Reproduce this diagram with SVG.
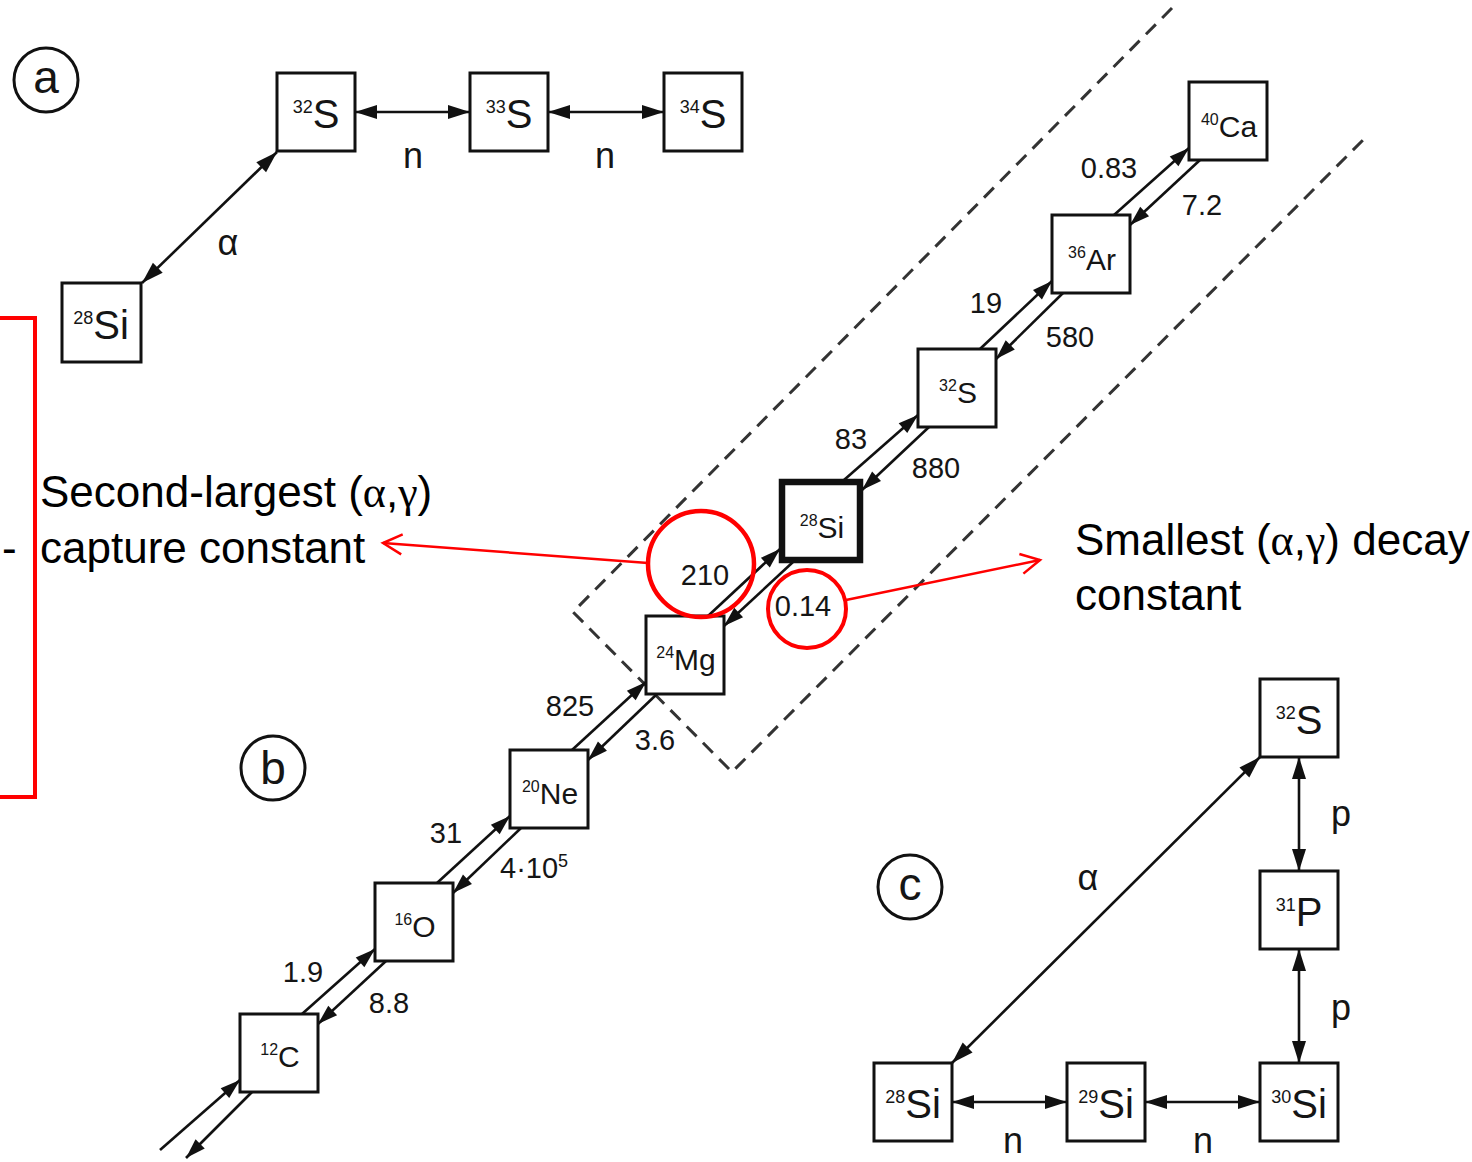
<svg xmlns="http://www.w3.org/2000/svg" width="1472" height="1162" viewBox="0 0 1472 1162">
<defs>
<marker id="ah" markerUnits="userSpaceOnUse" markerWidth="26" markerHeight="18" viewBox="-24 -9 26 18" refX="0" refY="0" orient="auto-start-reverse">
<path d="M-22,-7 L0,0 L-22,7 Z" fill="#111"/>
</marker>
<marker id="ahs" markerUnits="userSpaceOnUse" markerWidth="24" markerHeight="16" viewBox="-22 -8 24 16" refX="0" refY="0" orient="auto">
<path d="M-20,-6.5 L0,0 L-20,6.5 Z" fill="#111"/>
</marker>
<marker id="ra" markerUnits="userSpaceOnUse" markerWidth="28" markerHeight="28" viewBox="-24 -14 28 28" refX="0" refY="0" orient="auto">
<path d="M-19,-10 L0,0 L-19,10" fill="none" stroke="#f00" stroke-width="2.5"/>
</marker>
</defs>
<style>
.box{fill:#fff;stroke:#111;stroke-width:3}
.bold{stroke-width:6.5}
.t{font-family:"Liberation Sans",Arial,sans-serif;fill:#151515}
.iso{font-size:40px;text-anchor:middle}
.isob{font-size:30px;text-anchor:middle}
.num{font-size:29px;text-anchor:middle}
.lbl{font-size:36px;text-anchor:middle}
.pl{font-size:46px;text-anchor:middle}
.ln{stroke:#111;stroke-width:2.6;fill:none}
.dbl{marker-start:url(#ah);marker-end:url(#ah)}
.one{marker-end:url(#ahs)}
.dash{stroke:#333;stroke-width:3;stroke-dasharray:14 9;fill:none}
.red{stroke:#f00;fill:none}
.ann{font-family:"Liberation Sans",Arial,sans-serif;font-size:44px;fill:#000}
.gr{font-family:"Liberation Serif","Times New Roman",serif}
</style>

<!-- dashed region -->
<path class="dash" d="M1172,8 L573,612 L732,772 L1368,135"/>

<!-- panel labels -->
<g id="label-a"><circle cx="46" cy="80" r="32" fill="none" stroke="#111" stroke-width="3"/><text class="t pl" x="46" y="93">a</text></g>
<g id="label-b"><circle cx="273" cy="768" r="32" fill="none" stroke="#111" stroke-width="3"/><text class="t pl" x="273" y="784">b</text></g>
<g id="label-c"><circle cx="910" cy="887" r="32" fill="none" stroke="#111" stroke-width="3"/><text class="t pl" x="910" y="900">c</text></g>

<!-- connectors -->
<g id="connectors">
  <!-- panel a -->
  <line class="ln dbl" x1="142" y1="283" x2="277" y2="152"/>
  <line class="ln dbl" x1="355" y1="112" x2="470" y2="112"/>
  <line class="ln dbl" x1="548" y1="112" x2="664" y2="112"/>
  <!-- panel b -->
  <line class="ln one" x1="160" y1="1150" x2="240" y2="1080"/>
  <line class="ln one" x1="252" y1="1092" x2="186" y2="1158"/>
  <line class="ln one" x1="302" y1="1014" x2="375" y2="949"/>
  <line class="ln one" x1="386" y1="961" x2="318" y2="1024"/>
  <line class="ln one" x1="437" y1="883" x2="510" y2="816"/>
  <line class="ln one" x1="521" y1="828" x2="453" y2="893"/>
  <line class="ln one" x1="572" y1="750" x2="646" y2="682"/>
  <line class="ln one" x1="657" y1="694" x2="588" y2="760"/>
  <line class="ln one" x1="708" y1="616" x2="780" y2="549"/>
  <line class="ln one" x1="793" y1="562" x2="724" y2="626"/>
  <line class="ln one" x1="844" y1="480" x2="918" y2="415"/>
  <line class="ln one" x1="929" y1="427" x2="862" y2="490"/>
  <line class="ln one" x1="980" y1="349" x2="1052" y2="281"/>
  <line class="ln one" x1="1063" y1="293" x2="996" y2="359"/>
  <line class="ln one" x1="1114" y1="215" x2="1189" y2="148"/>
  <line class="ln one" x1="1200" y1="160" x2="1130" y2="225"/>
  <!-- panel c -->
  <line class="ln dbl" x1="952" y1="1063" x2="1260" y2="757"/>
  <line class="ln dbl" x1="1299" y1="757" x2="1299" y2="871"/>
  <line class="ln dbl" x1="1299" y1="949" x2="1299" y2="1063"/>
  <line class="ln dbl" x1="952" y1="1102" x2="1067" y2="1102"/>
  <line class="ln dbl" x1="1145" y1="1102" x2="1260" y2="1102"/>
</g>

<!-- connector labels -->
<g id="connector-labels" class="t">
  <text class="lbl" x="228" y="255">α</text>
  <text class="lbl" x="413" y="168">n</text>
  <text class="lbl" x="605" y="168">n</text>
  <text class="num" x="303" y="982">1.9</text>
  <text class="num" x="389" y="1013">8.8</text>
  <text class="num" x="446" y="843">31</text>
  <text class="num" x="500" y="878" style="text-anchor:start">4·10<tspan font-size="18" dy="-11">5</tspan></text>
  <text class="num" x="570" y="716">825</text>
  <text class="num" x="655" y="750">3.6</text>
  <text class="num" x="705" y="585">210</text>
  <text class="num" x="803" y="616">0.14</text>
  <text class="num" x="851" y="449">83</text>
  <text class="num" x="936" y="478">880</text>
  <text class="num" x="986" y="313">19</text>
  <text class="num" x="1070" y="347">580</text>
  <text class="num" x="1109" y="178">0.83</text>
  <text class="num" x="1202" y="215">7.2</text>
  <text class="lbl" x="1088" y="890">α</text>
  <text class="lbl" x="1341" y="826">p</text>
  <text class="lbl" x="1341" y="1020">p</text>
  <text class="lbl" x="1013" y="1153">n</text>
  <text class="lbl" x="1203" y="1153">n</text>
</g>

<!-- panel a nodes -->
<g id="a-S32"><rect class="box" x="277" y="73" width="78" height="78"/><text class="t iso" x="316" y="128"><tspan font-size="18" dy="-15">32</tspan><tspan dy="15">S</tspan></text></g>
<g id="a-S33"><rect class="box" x="470" y="73" width="78" height="78"/><text class="t iso" x="509" y="128"><tspan font-size="18" dy="-15">33</tspan><tspan dy="15">S</tspan></text></g>
<g id="a-S34"><rect class="box" x="664" y="73" width="78" height="78"/><text class="t iso" x="703" y="128"><tspan font-size="18" dy="-15">34</tspan><tspan dy="15">S</tspan></text></g>
<g id="a-Si28"><rect class="box" x="62" y="283" width="79" height="79"/><text class="t iso" x="101" y="339"><tspan font-size="18" dy="-15">28</tspan><tspan dy="15">Si</tspan></text></g>

<!-- panel b nodes -->
<g id="b-C12"><rect class="box" x="240" y="1014" width="78" height="78"/><text class="t isob" x="280" y="1067"><tspan font-size="16" dy="-12">12</tspan><tspan dy="12">C</tspan></text></g>
<g id="b-O16"><rect class="box" x="375" y="883" width="78" height="78"/><text class="t isob" x="415" y="937"><tspan font-size="16" dy="-12">16</tspan><tspan dy="12">O</tspan></text></g>
<g id="b-Ne20"><rect class="box" x="510" y="750" width="78" height="78"/><text class="t isob" x="550" y="804"><tspan font-size="16" dy="-12">20</tspan><tspan dy="12">Ne</tspan></text></g>
<g id="b-Mg24"><rect class="box" x="646" y="616" width="78" height="78"/><text class="t isob" x="686" y="670"><tspan font-size="16" dy="-12">24</tspan><tspan dy="12">Mg</tspan></text></g>
<g id="b-Si28"><rect class="box bold" x="782" y="482" width="78" height="78"/><text class="t isob" x="822" y="538"><tspan font-size="16" dy="-12">28</tspan><tspan dy="12">Si</tspan></text></g>
<g id="b-S32"><rect class="box" x="918" y="349" width="78" height="78"/><text class="t isob" x="958" y="403"><tspan font-size="16" dy="-12">32</tspan><tspan dy="12">S</tspan></text></g>
<g id="b-Ar36"><rect class="box" x="1052" y="215" width="78" height="78"/><text class="t isob" x="1092" y="270"><tspan font-size="16" dy="-12">36</tspan><tspan dy="12">Ar</tspan></text></g>
<g id="b-Ca40"><rect class="box" x="1189" y="82" width="78" height="78"/><text class="t isob" x="1229" y="137"><tspan font-size="16" dy="-12">40</tspan><tspan dy="12">Ca</tspan></text></g>

<!-- panel c nodes -->
<g id="c-S32"><rect class="box" x="1260" y="679" width="78" height="78"/><text class="t iso" x="1299" y="734"><tspan font-size="18" dy="-15">32</tspan><tspan dy="15">S</tspan></text></g>
<g id="c-P31"><rect class="box" x="1260" y="871" width="78" height="78"/><text class="t iso" x="1299" y="926"><tspan font-size="18" dy="-15">31</tspan><tspan dy="15">P</tspan></text></g>
<g id="c-Si28"><rect class="box" x="874" y="1063" width="78" height="78"/><text class="t iso" x="913" y="1118"><tspan font-size="18" dy="-15">28</tspan><tspan dy="15">Si</tspan></text></g>
<g id="c-Si29"><rect class="box" x="1067" y="1063" width="78" height="78"/><text class="t iso" x="1106" y="1118"><tspan font-size="18" dy="-15">29</tspan><tspan dy="15">Si</tspan></text></g>
<g id="c-Si30"><rect class="box" x="1260" y="1063" width="78" height="78"/><text class="t iso" x="1299" y="1118"><tspan font-size="18" dy="-15">30</tspan><tspan dy="15">Si</tspan></text></g>

<!-- red annotations -->
<g id="annotations">
  <path class="red" stroke-width="4" d="M0,318 H35 V797 H0"/>
  <circle class="red" stroke-width="4.5" cx="701" cy="564" r="53"/>
  <circle class="red" stroke-width="4" cx="807" cy="609" r="39"/>
  <line class="red" stroke-width="2.5" x1="648" y1="563" x2="383" y2="543" marker-end="url(#ra)"/>
  <line class="red" stroke-width="2.5" x1="846" y1="600" x2="1040" y2="560" marker-end="url(#ra)"/>
  <text class="ann" x="2" y="563">-</text>
  <text class="ann" x="40" y="507">Second-largest (<tspan class="gr">α</tspan>,<tspan class="gr">γ</tspan>)</text>
  <text class="ann" x="40" y="563">capture constant</text>
  <text class="ann" x="1075" y="555" font-size="43">Smallest (<tspan class="gr">α</tspan>,<tspan class="gr">γ</tspan>) decay</text>
  <text class="ann" x="1075" y="610" font-size="43">constant</text>
</g>
</svg>
